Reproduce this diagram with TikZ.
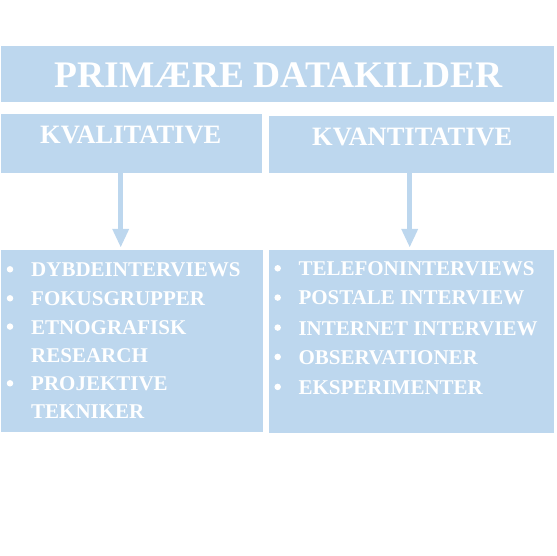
\documentclass[tikz,border=0pt]{standalone}
\usepackage{fontspec}
\setmainfont{Liberation Serif}
\usetikzlibrary{positioning, arrows.meta}
\definecolor{boksblaa}{HTML}{BDD7EE}

\begin{document}
\begin{tikzpicture}[x=1pt, y=-1pt,
    boks/.style={fill=boksblaa, inner sep=0pt, anchor=north west},
    overskrift/.style={text=white, inner sep=0pt, anchor=base, font=\bfseries\fontsize{26.5}{26.5}\selectfont},
    punkt/.style={circle, fill=white, inner sep=0pt, minimum size=6.5pt},
    tekst/.style={text=white, inner sep=0pt, anchor=base west, font=\bfseries\fontsize{21}{21}\selectfont},
    pil/.style={draw=boksblaa, line width=5pt, -{Triangle[width=17pt, length=18pt, line width=0pt]}, shorten >=3pt}]
    \useasboundingbox (0,0) rectangle (557,556);

    % kasser
    \node[boks, minimum width=553pt, minimum height=56pt] (primaer) at (1,46) {};
    \node[boks, minimum width=261pt, minimum height=59pt] (kval) at (1,114) {};
    \node[boks, minimum width=285pt, minimum height=57pt] (kvant) at (269,116) {};
    \node[boks, minimum width=262pt, minimum height=182pt] (kvalliste) at (1,250) {};
    \node[boks, minimum width=285pt, minimum height=183pt] (kvantliste) at (269,250) {};

    % pile
    \draw[pil] ([xshift=-11pt]kval.south) -- ([xshift=-11pt]kval.south |- kvalliste.north);
    \draw[pil] ([xshift=-2pt]kvant.south) -- ([xshift=-2pt]kvant.south |- kvantliste.north);

    % overskrifter
    \node[overskrift, font=\bfseries\fontsize{37.5}{37.5}\selectfont] (titel) at (278.5,88) {PRIMÆRE DATAKILDER};
    \node[overskrift] (kvaltekst) at (130.8,144) {KVALITATIVE};
    \node[overskrift] (kvanttekst) at (412.3,146) {KVANTITATIVE};

    % kvalitative metoder
    \node[punkt] (p1) at (10,269.3) {};
    \node[tekst] (dybde) at (31,276.7) {DYBDEINTERVIEWS};
    \node[punkt] (p2) at (10,298.3) {};
    \node[tekst] (fokus) at (31,305.7) {FOKUSGRUPPER};
    \node[punkt] (p3) at (10,326.6) {};
    \node[tekst] (etno) at (31,334) {ETNOGRAFISK};
    \node[tekst] (etnob) at (31,362.3) {RESEARCH};
    \node[punkt] (p4) at (10,383.3) {};
    \node[tekst] (proj) at (31,390.7) {PROJEKTIVE};
    \node[tekst] (projb) at (31,418.3) {TEKNIKER};

    % kvantitative metoder
    \node[punkt] (p5) at (277.7,268.3) {};
    \node[tekst] (tlf) at (298.3,275.7) {TELEFONINTERVIEWS};
    \node[punkt] (p6) at (277.7,297.6) {};
    \node[tekst] (post) at (298.3,305) {POSTALE INTERVIEW};
    \node[punkt] (p7) at (277.7,327.6) {};
    \node[tekst] (inet) at (298.3,335) {INTERNET INTERVIEW};
    \node[punkt] (p8) at (277.7,356.9) {};
    \node[tekst] (obs) at (298.3,364.3) {OBSERVATIONER};
    \node[punkt] (p9) at (277.7,386.9) {};
    \node[tekst] (eksp) at (298.3,394.3) {EKSPERIMENTER};
\end{tikzpicture}
\end{document}
